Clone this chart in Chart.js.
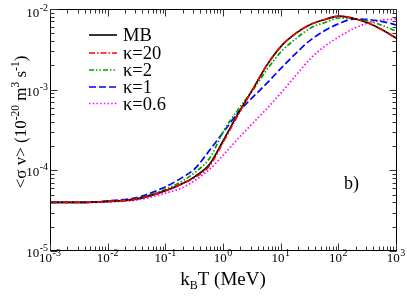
<!DOCTYPE html>
<html><head><meta charset="utf-8">
<script src="https://cdn.jsdelivr.net/npm/chart.js@4.4.0/dist/chart.umd.min.js"></script>
<style>html,body{margin:0;padding:0;background:#fff;overflow:hidden}#wrap{width:407px;height:296px;position:relative}</style>
</head><body><div id="wrap"><canvas id="c" width="407" height="296"></canvas></div>
<script>
// k_B T (MeV)
const temperatures = [0.001, 0.00316, 0.01, 0.0316, 0.1, 0.178, 0.316, 0.562, 1, 1.78, 3.16, 5.62, 10, 17.8, 31.6, 56.2, 100, 178, 316, 562, 1000];
// <sigma v> (10^-20 m^3 s^-1)
const sigmaMB    = [4.00e-5, 4.00e-5, 4.12e-5, 4.43e-5, 5.64e-5, 6.70e-5, 8.42e-5, 1.187e-4, 2.43e-4, 5.11e-4, 1.014e-3, 2.045e-3, 3.52e-3, 5.03e-3, 6.42e-3, 7.41e-3, 8.18e-3, 7.62e-3, 6.70e-3, 5.48e-3, 4.30e-3];
const sigmaK20   = [4.00e-5, 4.00e-5, 4.12e-5, 4.43e-5, 5.64e-5, 6.70e-5, 8.18e-5, 1.137e-4, 2.325e-4, 4.96e-4, 1.014e-3, 2.045e-3, 3.52e-3, 5.03e-3, 6.42e-3, 7.41e-3, 8.18e-3, 7.62e-3, 6.70e-3, 5.48e-3, 4.30e-3];
const sigmaK2    = [4.00e-5, 4.00e-5, 4.12e-5, 4.49e-5, 5.89e-5, 7.20e-5, 9.45e-5, 1.409e-4, 3.14e-4, 5.73e-4, 9.86e-4, 1.798e-3, 3.01e-3, 4.30e-3, 5.81e-3, 6.80e-3, 7.73e-3, 7.62e-3, 7.09e-3, 6.24e-3, 5.25e-3];
const sigmaK1    = [4.00e-5, 4.00e-5, 4.18e-5, 4.62e-5, 6.33e-5, 7.95e-5, 1.059e-4, 1.772e-4, 3.05e-4, 5.26e-4, 8.07e-4, 1.215e-3, 1.877e-3, 2.84e-3, 4.12e-3, 5.41e-3, 6.61e-3, 7.51e-3, 7.41e-3, 6.99e-3, 6.33e-3];
const sigmaK06   = [4.00e-5, 4.00e-5, 4.06e-5, 4.30e-5, 5.25e-5, 5.97e-5, 7.51e-5, 1.029e-4, 1.580e-4, 2.498e-4, 3.84e-4, 5.89e-4, 9.31e-4, 1.514e-3, 2.427e-3, 3.47e-3, 4.55e-3, 5.73e-3, 6.70e-3, 7.30e-3, 7.51e-3];
const seriesLabels = ['MB', 'κ=20', 'κ=2', 'κ=1', 'κ=0.6'];
const xTickExponents = [-3, -2, -1, 0, 1, 2, 3];
const yTickExponents = [-5, -4, -3, -2];

const SERIF = '"Liberation Serif","Times New Roman",serif';
const styles = [
  {color:'#000000', dash:[]},
  {color:'#ff0000', dash:[6,2,1.5,2]},
  {color:'#00a000', dash:[5,2,1.5,2,1.5,2]},
  {color:'#0000ff', dash:[7,3]},
  {color:'#ff00ff', dash:[1.5,2.2]}
];
const allSeries = [sigmaMB, sigmaK20, sigmaK2, sigmaK1, sigmaK06];
const drawOrder = [1, 0, 2, 3, 4];

function rich(ctx, parts, x, y, align) {
  let w = 0;
  parts.forEach(p => { ctx.font = p.s + 'px ' + SERIF; p.w = ctx.measureText(p.t).width; w += p.w + (p.g || 0); });
  let sx = align === 'center' ? x - w / 2 : align === 'right' ? x - w : x;
  ctx.textAlign = 'left'; ctx.textBaseline = 'alphabetic';
  parts.forEach(p => { ctx.font = p.s + 'px ' + SERIF; sx += (p.g || 0); ctx.fillText(p.t, sx, y + (p.dy || 0)); sx += p.w; });
}

const framePlugin = {
  id: 'frame',
  afterDraw(chart) {
    const {ctx, chartArea: a, scales: {x, y}} = chart;
    ctx.save();
    ctx.fillStyle = '#000';
    ctx.strokeStyle = '#000';
    ctx.lineWidth = 1;
    const L = Math.round(a.left) - 0.5, R = Math.round(a.right) - 0.5, T = Math.round(a.top) + 0.5, B = Math.round(a.bottom) - 0.5;
    ctx.strokeRect(L, T, R - L, B - T);
    ctx.strokeStyle = '#333';
    ctx.beginPath();
    for (let d = -3; d <= 3; d++) {
      for (let m = 1; m <= 9; m++) {
        if (d === 3 && m > 1) break;
        const px = Math.round(x.getPixelForValue(m * Math.pow(10, d))) - 0.5;
        const len = m === 1 ? 7 : 4;
        ctx.moveTo(px, B); ctx.lineTo(px, B - len);
        ctx.moveTo(px, T); ctx.lineTo(px, T + len);
      }
    }
    for (let d = -5; d <= -2; d++) {
      for (let m = 1; m <= 9; m++) {
        if (d === -2 && m > 1) break;
        const py = Math.round(y.getPixelForValue(m * Math.pow(10, d))) + 0.5;
        const len = m === 1 ? 7 : 4;
        ctx.moveTo(L, py); ctx.lineTo(L + len, py);
        ctx.moveTo(R, py); ctx.lineTo(R - len, py);
      }
    }
    ctx.stroke();

    // tick labels
    xTickExponents.forEach(e => {
      const px = x.getPixelForValue(Math.pow(10, e));
      rich(ctx, [{t:'10', s:13}, {t:String(e), s:10, dy:-6, g:0.5}], px - 1, 262, 'center');
    });
    yTickExponents.forEach(e => {
      const py = y.getPixelForValue(Math.pow(10, e));
      rich(ctx, [{t:'10', s:13}, {t:String(e), s:10, dy:-6, g:0.5}], a.left - 3, py + (e === -2 ? 8 : 6), 'right');
    });

    // x title
    rich(ctx, [{t:'k', s:19}, {t:'B', s:12, dy:4}, {t:'T (MeV)', s:19}], 223, 285, 'center');

    // y title (rotated)
    ctx.save();
    ctx.translate(26, 122);
    ctx.rotate(-Math.PI / 2);
    rich(ctx, [{t:'<σ v> (10', s:17}, {t:'-20', s:11.5, dy:-7}, {t:' m', s:17}, {t:'3', s:11.5, dy:-7}, {t:' s', s:17}, {t:'-1', s:11.5, dy:-7}, {t:')', s:17}], 0, 0, 'center');
    ctx.restore();

    // panel label
    ctx.font = '18px ' + SERIF;
    ctx.fillText('b)', 344, 189);

    // legend
    const rows = [35, 53, 70, 87, 103.5];
    seriesLabels.forEach((lab, i) => {
      ctx.save();
      ctx.strokeStyle = styles[i].color;
      ctx.lineWidth = 1.6;
      ctx.setLineDash(styles[i].dash);
      ctx.beginPath();
      ctx.moveTo(89, rows[i]); ctx.lineTo(117, rows[i]);
      ctx.stroke();
      ctx.restore();
      ctx.fillStyle = '#000';
      ctx.font = '18.5px ' + SERIF;
      ctx.textAlign = 'left'; ctx.textBaseline = 'alphabetic';
      ctx.fillText(lab, 123, rows[i] + 6);
    });
    ctx.restore();
  }
};

new Chart(document.getElementById('c'), {
  type: 'line',
  data: {
    datasets: allSeries.map((s, i) => ({
      label: seriesLabels[i],
      data: temperatures.map((t, j) => ({x: t, y: s[j]})),
      borderColor: styles[i].color,
      borderDash: styles[i].dash,
      borderWidth: 1.7,
      pointRadius: 0,
      fill: false,
      cubicInterpolationMode: 'monotone',
      order: drawOrder[i]
    }))
  },
  options: {
    responsive: false,
    animation: false,
    devicePixelRatio: 1,
    layout: {padding: {left: 51, right: 10, top: 9, bottom: 45}},
    plugins: {legend: {display: false}, tooltip: {enabled: false}},
    scales: {
      x: {type: 'logarithmic', min: 1e-3, max: 1e3, display: false},
      y: {type: 'logarithmic', min: 1e-5, max: 1e-2, display: false}
    }
  },
  plugins: [framePlugin]
});
</script>
</body></html>
